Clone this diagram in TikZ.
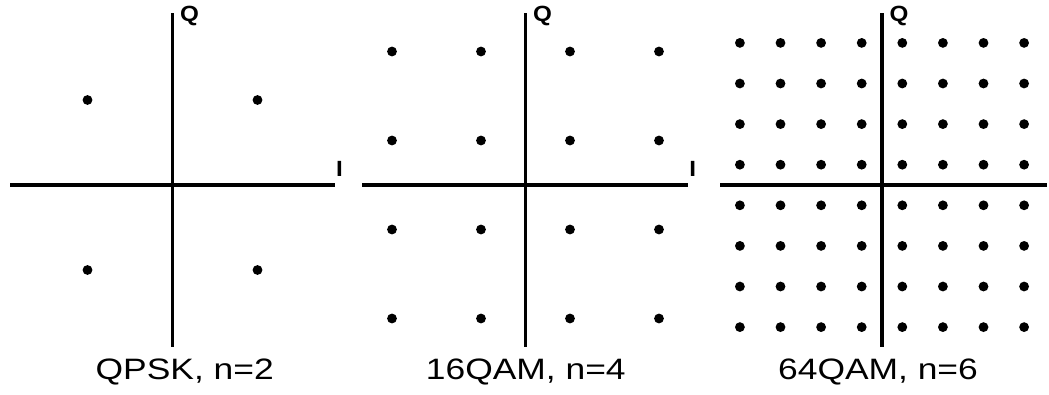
\documentclass[tikz,border=0pt]{standalone}
\usepackage{fontspec}
\setmainfont{Liberation Sans}
\usetikzlibrary{positioning}

\begin{document}
\begin{tikzpicture}[x=1pt, y=-1pt,
  axis/.style={line width=3.2pt},
  axlabel/.style={font=\fontsize{22}{22}\selectfont\bfseries, xscale=1.1,
    transform shape, inner sep=0pt, anchor=base},
  caption/.style={font=\fontsize{29.5}{30}\selectfont, xscale=1.2,
    transform shape, inner sep=0pt, anchor=base}]
\useasboundingbox (0,0) rectangle (1049,394);
\def\r{4.9}

% QPSK
\draw[axis] (172.5,13) -- (172.5,347);
\draw[axis] (10,185) -- (335,185);
\node[axlabel] (q1) at (189.5,21) {Q};
\node[axlabel] (i1) at (339.5,176) {I};
\foreach \x in {-1,1}
  \foreach \y in {-1,1}
    \fill ({172.5+\x*85},{185+\y*85}) circle (\r);
\node[caption] (c1) at (184.7,379.3) {QPSK, n=2};

% 16QAM
\draw[axis] (525.5,13) -- (525.5,347);
\draw[axis] (362,185) -- (688,185);
\node[axlabel] (q2) at (542.5,21) {Q};
\node[axlabel] (i2) at (692.7,176) {I};
\foreach \x in {-1.5,-0.5,0.5,1.5}
  \foreach \y in {-1.5,-0.5,0.5,1.5}
    \fill ({525.5+\x*89},{185+\y*89}) circle (\r);
\node[caption] (c2) at (525.8,379.3) {16QAM, n=4};

% 64QAM
\draw[axis] (882,13) -- (882,347);
\draw[axis] (720,185) -- (1047,185);
\node[axlabel] (q3) at (899,21) {Q};
\foreach \x in {-3.5,-2.5,...,3.5}
  \foreach \y in {-3.5,-2.5,...,3.5}
    \fill ({882+\x*40.6},{185+\y*40.6}) circle (\r);
\node[caption] (c3) at (878,379.3) {64QAM, n=6};

\end{tikzpicture}
\end{document}
